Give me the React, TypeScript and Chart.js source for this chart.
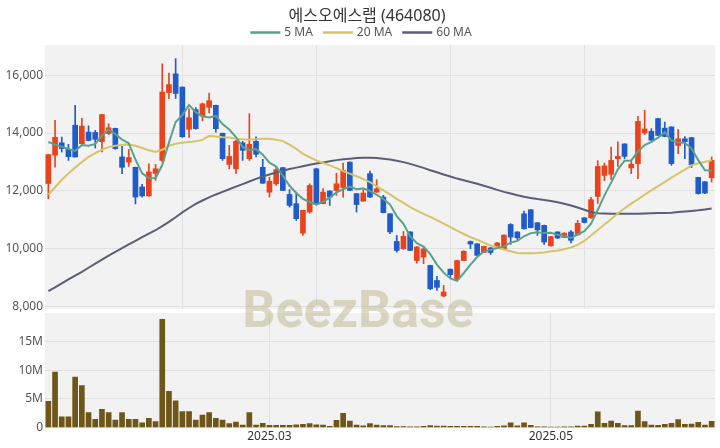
import React, { useEffect, useRef } from "react";
import { Chart, registerables } from "chart.js";

Chart.register(...registerables);

const TITLE = "에스오에스랩 (464080)";
const WATERMARK = "BeezBase";
const MA_NAMES = ["5 MA", "20 MA", "60 MA"];
const MA_COLORS = ["#5aa08c", "#d6c46a", "#5a5f75"];
const UP = "#e8431c";
const DOWN = "#1f5cc8";
const VOL_COLOR = "#6e5518";
const BG = "#f2f2f2";
const GRID = "#e1e1e1";
const FONT = '"Noto Sans", "Noto Sans CJK KR", sans-serif';

const JAN = ["09","10","13","14","15","16","17","20","21","22","23","24","31"];
const FEB = ["03","04","05","06","07","10","11","12","13","14","17","18","19","20","21","24","25","26","27","28"];
const MAR = ["04","05","06","07","10","11","12","13","14","17","18","19","20","21","24","25","26","27","28","31"];
const APR = ["01","02","03","04","07","08","09","10","11","14","15","16","17","18","21","22","23","24","25","28","29","30"];
const MAY = ["02","07","08","09","12","13","14","15","16","19","20","21","22","23","26","27","28","29","30"];
const JUN = ["02","04","05","09","10","11"];

const MONTH_TICKS = ["2025.03", "2025.05"];
const PRICE_TICKS = [8000, 10000, 12000, 14000, 16000];
const VOL_TICKS = [0, 5000000, 10000000, 15000000];

const OPEN = [12250,13230,13660,13430,14270,13630,14030,14020,13700,13980,
  14160,13170,12990,12810,12130,11820,12600,13050,15400,16050,
  15590,14130,14810,14590,14890,14960,13990,12910,12760,13660,
  13110,13710,12810,11950,12240,12800,11870,11550,10530,11260,
  12760,11550,11990,12010,12110,12990,11900,11640,12590,11950,
  11780,11200,10240,9990,10570,9580,9700,9410,8890,8350,
  9280,8930,9580,10240,10160,9860,10020,10070,9970,10830,
  10570,11200,11340,10890,10800,10090,10570,10380,10570,10470,
  11060,11060,11800,12530,12570,13110,13620,12790,12940,14000,
  14060,14500,14170,14210,13570,13800,13840,12460,12310,12450];
const HIGH = [13260,14440,13860,13610,14960,14510,14250,14090,14650,14320,
  14170,13540,13430,12820,12220,12930,12910,16400,16080,16580,
  15600,14840,14880,15040,15380,14970,14000,13570,13750,13710,
  14670,13870,13090,12470,12840,12810,12040,11950,11330,12240,
  12780,12070,12000,12610,12960,13000,11910,12040,12680,12380,
  11840,11210,10450,10590,10580,10060,10070,9420,9030,8720,
  9290,9590,9920,10260,10170,10080,10030,10210,10470,10860,
  10580,11290,11350,10900,10810,10420,10580,10540,10620,10970,
  11070,11770,13040,12960,13510,13690,13630,13050,14580,14790,
  14150,14510,14380,14220,14120,13880,13850,12470,12320,13170];
const LOW = [11720,12820,13340,13050,13160,13570,13730,13480,13340,13950,
  13430,12590,12840,11540,11780,11800,12360,13000,15190,15200,
  13850,13850,14130,14420,14700,14030,13050,12760,12590,13050,
  13050,13170,12250,11780,12180,12000,11430,10970,10450,11220,
  11520,11540,11490,11840,11780,12000,11260,11630,11760,11940,
  11230,10510,9870,9960,9920,9490,9470,8570,8540,8320,
  8980,8920,9570,9990,9750,9850,9790,10060,9960,10140,
  10280,10670,10710,10450,10140,10080,10340,10370,10190,10460,
  10880,11040,11560,12350,12390,12840,13110,12590,12420,13950,
  13740,13910,13870,12880,13280,13110,12800,11880,11900,12300];
const CLOSE = [13250,13850,13460,13180,13170,14240,13740,13780,14640,14180,
  13460,12810,13150,11780,11820,12650,12760,15420,15680,15370,
  13870,14530,14150,15010,15120,14150,13110,13190,13710,13400,
  13610,13260,12260,12330,12730,12010,11490,11030,11320,12180,
  11550,11950,11780,12240,12700,12010,11520,11920,11780,12070,
  11240,10570,9930,10420,9930,10050,9980,8600,8650,8490,
  9090,9580,9900,10150,9760,10070,9860,10190,10460,10390,
  10370,10680,10720,10640,10220,10410,10360,10530,10280,10870,
  10900,11690,12840,12860,13050,13190,13190,12920,14400,14140,
  13750,13920,13880,12940,13800,13700,12910,11900,11920,13050];
const VOLUME = [4570000,9700000,1860000,1860000,8800000,7340000,2600000,1450000,3200000,2600000,
  1330000,2600000,1450000,1450000,850000,1630000,1030000,18900000,6340000,4690000,
  2800000,2800000,1330000,2200000,2600000,1630000,1330000,680000,970000,440000,
  2600000,440000,740000,380000,380000,380000,400000,500000,560000,680000,
  500000,440000,200000,1270000,2500000,1150000,440000,300000,680000,450000,
  350000,350000,180000,180000,120000,150000,200000,350000,250000,250000,
  200000,200000,200000,200000,200000,150000,100000,200000,300000,850000,
  300000,850000,400000,150000,150000,100000,100000,150000,150000,250000,
  250000,560000,2740000,740000,1150000,740000,350000,350000,2900000,1030000,
  440000,380000,560000,740000,1400000,560000,620000,910000,440000,1090000];
const MA5 = [13690,13600,13520,13450,13380,13580,13560,13620,13910,14120,
  13960,13770,13650,13080,12600,12440,12430,12890,13670,14380,
  14620,14970,14720,14580,14540,14590,14310,14120,13860,13510,
  13410,13440,13250,12970,12840,12520,12170,11920,11720,11610,
  11520,11610,11760,11940,12050,12140,12050,12080,11990,11860,
  11710,11520,11120,10850,10420,10180,10060,9800,9440,9160,
  8960,8880,9140,9440,9700,9890,9950,10010,10070,10200,
  10260,10420,10530,10560,10530,10540,10470,10430,10360,10490,
  10600,10860,11330,11840,12280,12740,13040,13050,13360,13580,
  13690,13840,14030,13740,13670,13660,13460,13060,12710,12700];
const MA20 = [11870,12120,12380,12600,12800,12990,13170,13300,13420,13510,
  13560,13590,13600,13560,13480,13400,13340,13420,13560,13630,
  13660,13690,13710,13760,13900,13880,13850,13840,13800,13780,
  13770,13780,13800,13800,13770,13720,13600,13450,13280,13160,
  13050,12960,12880,12780,12680,12590,12500,12400,12300,12150,
  12010,11870,11720,11580,11430,11310,11200,11090,10980,10860,
  10740,10620,10500,10390,10300,10200,10100,10030,9960,9900,
  9840,9830,9830,9840,9860,9900,9930,9970,10030,10120,
  10260,10450,10640,10830,11020,11210,11390,11550,11700,11860,
  12010,12160,12300,12450,12590,12730,12880,12950,13000,13050];
const MA60 = [8520,8650,8790,8930,9060,9190,9330,9470,9610,9750,
  9880,10010,10140,10260,10390,10510,10630,10770,10920,11080,
  11250,11400,11540,11660,11770,11870,11960,12050,12140,12230,
  12320,12410,12490,12560,12630,12690,12750,12800,12850,12900,
  12940,12980,13020,13060,13090,13110,13130,13140,13145,13130,
  13110,13080,13040,12990,12930,12860,12790,12710,12640,12560,
  12490,12420,12360,12300,12240,12170,12100,12030,11960,11900,
  11840,11790,11750,11710,11680,11640,11600,11550,11490,11420,
  11340,11260,11220,11210,11200,11200,11200,11200,11200,11210,
  11220,11225,11230,11240,11260,11280,11300,11320,11350,11380];

const LABELS: string[] = [
  ...JAN.map((d) => `2025.01.${d}`),
  ...FEB.map((d) => `2025.02.${d}`),
  ...MAR.map((d) => `2025.03.${d}`),
  ...APR.map((d) => `2025.04.${d}`),
  ...MAY.map((d) => `2025.05.${d}`),
  ...JUN.map((d) => `2025.06.${d}`),
];

const monthTickAt = (i: number): string | null => {
  const m = LABELS[i].slice(0, 7);
  if (i > 0 && LABELS[i - 1].slice(0, 7) === m) return null;
  return MONTH_TICKS.includes(m) ? m : null;
};

const TOP_H = 313;
const BOTTOM_H = 135;

const bgPlugin = {
  id: "areaBg",
  beforeDraw(chart: any) {
    const { ctx, chartArea: a } = chart;
    ctx.save();
    ctx.fillStyle = BG;
    ctx.fillRect(a.left, a.top, a.right - a.left, a.bottom - a.top);
    ctx.restore();
  },
};

const makeWatermark = (offsetY: number) => ({
  id: "watermark",
  beforeDatasetsDraw(chart: any) {
    const ctx = chart.ctx;
    ctx.save();
    ctx.font = 'bold 52px Roboto, "Liberation Sans", sans-serif';
    ctx.fillStyle = "rgba(190,180,140,0.5)";
    ctx.textAlign = "center";
    ctx.textBaseline = "alphabetic";
    ctx.fillText(WATERMARK, 358, 327 - offsetY);
    ctx.restore();
  },
});

const headerPlugin = {
  id: "header",
  afterDraw(chart: any) {
    const ctx = chart.ctx;
    ctx.save();
    ctx.font = `16px ${FONT}`;
    ctx.fillStyle = "#333";
    ctx.textAlign = "center";
    ctx.textBaseline = "middle";
    ctx.fillText(TITLE, 367, 16);
    ctx.font = `12px ${FONT}`;
    const sample = 30;
    const gap = 4;
    const spacing = 10;
    const widths = MA_NAMES.map((n) => sample + gap + ctx.measureText(n).width);
    const total = widths.reduce((a, b) => a + b, 0) + spacing * (MA_NAMES.length - 1);
    let x = 361 - total / 2;
    ctx.textAlign = "left";
    MA_NAMES.forEach((n, i) => {
      ctx.strokeStyle = MA_COLORS[i];
      ctx.lineWidth = 2.5;
      ctx.beginPath();
      ctx.moveTo(x, 32.5);
      ctx.lineTo(x + sample, 32.5);
      ctx.stroke();
      ctx.fillStyle = "#555";
      ctx.fillText(n, x + sample + gap, 33);
      x += widths[i] + spacing;
    });
    ctx.restore();
  },
};

export default function App() {
  const priceRef = useRef<HTMLCanvasElement>(null);
  const volRef = useRef<HTMLCanvasElement>(null);

  useEffect(() => {
    const candleColors = LABELS.map((_, i) => (CLOSE[i] >= OPEN[i] ? UP : DOWN));
    const maData = [MA5, MA20, MA60];

    const price = new Chart(priceRef.current as HTMLCanvasElement, {
      type: "bar",
      data: {
        labels: LABELS,
        datasets: [
          ...MA_NAMES.map((name, k) => ({
            type: "line" as const,
            label: name,
            data: maData[k],
            borderColor: MA_COLORS[k],
            backgroundColor: MA_COLORS[k],
            borderWidth: 2,
            pointRadius: 0,
            tension: 0,
            order: 0,
          })),
          {
            type: "bar" as const,
            label: "wick",
            data: LABELS.map((_, i) => [LOW[i], HIGH[i]]),
            backgroundColor: candleColors,
            barThickness: 1,
            grouped: false,
            order: 2,
          } as any,
          {
            type: "bar" as const,
            label: "body",
            data: LABELS.map((_, i) => [OPEN[i], CLOSE[i]]),
            backgroundColor: candleColors,
            barThickness: 5,
            minBarLength: 1,
            grouped: false,
            order: 1,
          } as any,
        ],
      },
      options: {
        responsive: false,
        animation: false,
        events: [],
        layout: { padding: { top: 45, bottom: 4, left: 0, right: 5 } },
        plugins: { legend: { display: false }, title: { display: false }, tooltip: { enabled: false } },
        scales: {
          x: {
            offset: true,
            ticks: { display: false, autoSkip: false },
            grid: {
              offset: false,
              drawTicks: false,
              color: (c: any) => (c.index > 0 && c.index % 20 === 0 ? GRID : "rgba(0,0,0,0)"),
            },
            border: { display: false },
            afterFit: (s: any) => { s.height = 0; },
          },
          y: {
            min: 7900,
            max: 17050,
            afterBuildTicks: (s: any) => { s.ticks = PRICE_TICKS.map((v) => ({ value: v })); },
            ticks: {
              padding: 2,
              color: "#555",
              font: { size: 12, family: FONT },
              callback: (v: any) => Number(v).toLocaleString("en-US"),
            },
            grid: { color: GRID, drawTicks: false },
            border: { display: false },
            afterFit: (s: any) => { s.width = 45; s.paddingTop = 0; s.paddingBottom = 0; },
          },
        },
      } as any,
      plugins: [bgPlugin, makeWatermark(0), headerPlugin],
    });

    const vol = new Chart(volRef.current as HTMLCanvasElement, {
      type: "bar",
      data: {
        labels: LABELS,
        datasets: [
          {
            label: "Volume",
            data: VOLUME,
            backgroundColor: VOL_COLOR,
            barThickness: 5,
          },
        ],
      },
      options: {
        responsive: false,
        animation: false,
        events: [],
        layout: { padding: { top: 0, bottom: 2, left: 0, right: 5 } },
        plugins: { legend: { display: false }, title: { display: false }, tooltip: { enabled: false } },
        scales: {
          x: {
            offset: true,
            ticks: {
              autoSkip: false,
              maxRotation: 0,
              padding: 2,
              color: "#333",
              font: { size: 12, family: FONT },
              callback: (_v: any, i: number) => monthTickAt(i) ?? "",
            },
            grid: {
              offset: false,
              drawTicks: false,
              color: (c: any) => (monthTickAt(c.index) ? GRID : "rgba(0,0,0,0)"),
            },
            border: { display: false },
          },
          y: {
            min: 0,
            max: 20000000,
            afterBuildTicks: (s: any) => { s.ticks = VOL_TICKS.map((v) => ({ value: v })); },
            ticks: {
              padding: 2,
              color: "#555",
              font: { size: 12, family: FONT },
              callback: (v: any) => (Number(v) === 0 ? "0" : `${Number(v) / 1000000}M`),
            },
            grid: { color: GRID, drawTicks: false },
            border: { display: false },
            afterFit: (s: any) => { s.width = 45; s.paddingTop = 0; s.paddingBottom = 0; },
          },
        },
      } as any,
      plugins: [bgPlugin, makeWatermark(TOP_H)],
    });

    return () => {
      price.destroy();
      vol.destroy();
    };
  }, []);

  return (
    <div style={{ position: "fixed", left: 0, top: 0, width: 720, height: 448, background: "#fff" }}>
      <canvas
        ref={priceRef}
        width={720}
        height={TOP_H}
        style={{ position: "absolute", left: 0, top: 0, width: 720, height: TOP_H }}
      />
      <canvas
        ref={volRef}
        width={720}
        height={BOTTOM_H}
        style={{ position: "absolute", left: 0, top: TOP_H, width: 720, height: BOTTOM_H }}
      />
    </div>
  );
}
